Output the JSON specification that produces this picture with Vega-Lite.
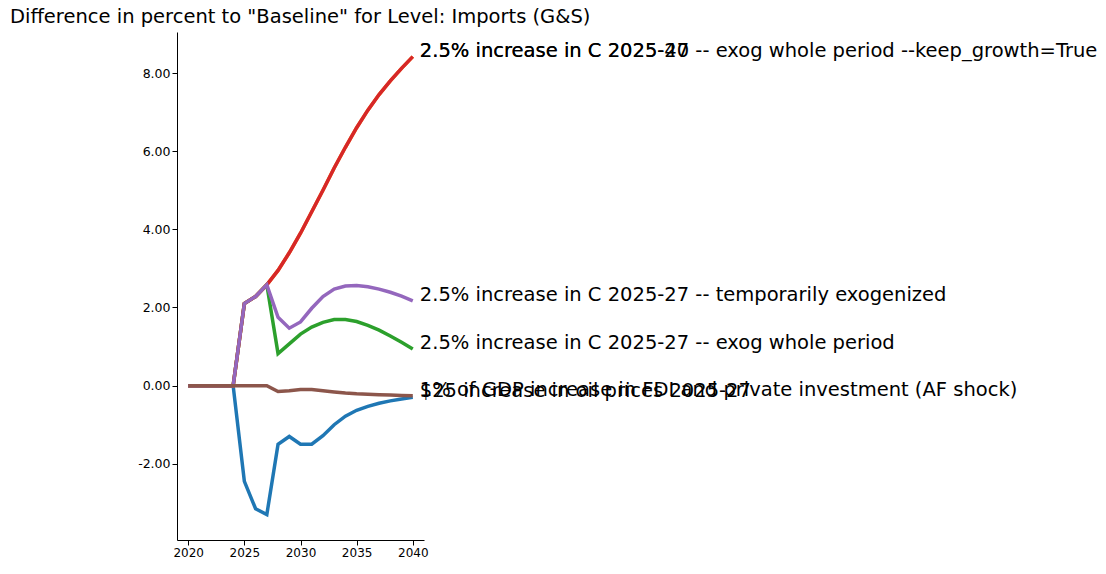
{
  "$schema": "https://vega.github.io/schema/vega-lite/v6.json",
  "autosize": "none",
  "width": 247,
  "height": 508,
  "padding": {"left": 177, "top": 32, "right": 682, "bottom": 34},
  "background": "white",
  "title": {"text": "Difference in percent to \"Baseline\" for Level: Imports (G&S)", "anchor": "start", "frame": "group", "dx": -167, "offset": 5, "fontSize": 19.5, "fontWeight": "normal", "font": "DejaVu Sans", "color": "black"},
  "datasets": {
    "labels": [
      {"key": "s1", "label": "$25 increase in oil prices 2025-27"},
      {"key": "s2", "label": "2.5% increase in C 2025-40"},
      {"key": "s3", "label": "2.5% increase in C 2025-27 -- exog whole period"},
      {"key": "s4", "label": "2.5% increase in C 2025-27 -- exog whole period --keep_growth=True"},
      {"key": "s5", "label": "2.5% increase in C 2025-27 -- temporarily exogenized"},
      {"key": "s6", "label": "1% of GDP increase in FDI and private investment (AF shock)"}
    ]
  },
  "data": {
    "values": [
      {"year": 2020, "s1": 0, "s2": 0, "s3": 0, "s4": 0, "s5": 0, "s6": 0},
      {"year": 2021, "s1": 0, "s2": 0, "s3": 0, "s4": 0, "s5": 0, "s6": 0},
      {"year": 2022, "s1": 0, "s2": 0, "s3": 0, "s4": 0, "s5": 0, "s6": 0},
      {"year": 2023, "s1": 0, "s2": 0, "s3": 0, "s4": 0, "s5": 0, "s6": 0},
      {"year": 2024, "s1": 0, "s2": 0, "s3": 0, "s4": 0, "s5": 0, "s6": 0},
      {"year": 2025, "s1": -2.45, "s2": 2.1, "s3": 2.1, "s4": 2.1, "s5": 2.1, "s6": 0},
      {"year": 2026, "s1": -3.15, "s2": 2.28, "s3": 2.28, "s4": 2.28, "s5": 2.28, "s6": 0},
      {"year": 2027, "s1": -3.3, "s2": 2.58, "s3": 2.58, "s4": 2.58, "s5": 2.58, "s6": 0},
      {"year": 2028, "s1": -1.5, "s2": 2.95, "s3": 0.82, "s4": 2.95, "s5": 1.75, "s6": -0.15},
      {"year": 2029, "s1": -1.3, "s2": 3.4, "s3": 1.07, "s4": 3.4, "s5": 1.47, "s6": -0.13},
      {"year": 2030, "s1": -1.5, "s2": 3.9, "s3": 1.32, "s4": 3.9, "s5": 1.63, "s6": -0.1},
      {"year": 2031, "s1": -1.5, "s2": 4.45, "s3": 1.5, "s4": 4.45, "s5": 1.98, "s6": -0.1},
      {"year": 2032, "s1": -1.28, "s2": 5.0, "s3": 1.62, "s4": 5.0, "s5": 2.28, "s6": -0.13},
      {"year": 2033, "s1": -1.0, "s2": 5.57, "s3": 1.69, "s4": 5.57, "s5": 2.47, "s6": -0.16},
      {"year": 2034, "s1": -0.78, "s2": 6.1, "s3": 1.69, "s4": 6.1, "s5": 2.55, "s6": -0.19},
      {"year": 2035, "s1": -0.63, "s2": 6.6, "s3": 1.64, "s4": 6.6, "s5": 2.56, "s6": -0.21},
      {"year": 2036, "s1": -0.53, "s2": 7.05, "s3": 1.54, "s4": 7.05, "s5": 2.53, "s6": -0.22},
      {"year": 2037, "s1": -0.45, "s2": 7.45, "s3": 1.42, "s4": 7.45, "s5": 2.47, "s6": -0.23},
      {"year": 2038, "s1": -0.39, "s2": 7.8, "s3": 1.27, "s4": 7.8, "s5": 2.39, "s6": -0.24},
      {"year": 2039, "s1": -0.34, "s2": 8.12, "s3": 1.11, "s4": 8.12, "s5": 2.29, "s6": -0.25},
      {"year": 2040, "s1": -0.3, "s2": 8.42, "s3": 0.94, "s4": 8.42, "s5": 2.17, "s6": -0.26}
    ]
  },
  "transform": [
    {"fold": ["s1", "s2", "s3", "s4", "s5", "s6"], "as": ["key", "value"]},
    {"lookup": "key", "from": {"data": {"name": "labels"}, "key": "key", "fields": ["label"]}}
  ],
  "encoding": {
    "x": {"field": "year", "type": "quantitative", "scale": {"domain": [2019, 2041], "nice": false, "zero": false},
      "axis": {"title": null, "values": [2020, 2025, 2030, 2035, 2040], "format": "d", "grid": false, "labelFontSize": 12, "labelColor": "black", "domainColor": "black", "tickColor": "black", "labelFont": "DejaVu Sans"}},
    "y": {"field": "value", "type": "quantitative", "scale": {"domain": [-3.95, 9.05], "nice": false, "zero": false},
      "axis": {"title": null, "values": [-2, 0, 2, 4, 6, 8], "labelExpr": "replace(format(datum.value, '.2f'), '\u2212', '-')", "grid": false, "labelFontSize": 12.5, "labelColor": "black", "domainColor": "black", "tickColor": "black", "labelFont": "DejaVu Sans"}},
    "color": {"field": "key", "type": "nominal", "legend": null,
      "scale": {"domain": ["s1", "s2", "s3", "s4", "s5", "s6"], "range": ["#1f77b4", "#ff7f0e", "#2ca02c", "#d62728", "#9467bd", "#8c564b"]}}
  },
  "layer": [
    {"mark": {"type": "line", "strokeWidth": 3.5, "clip": false}, "encoding": {"order": {"field": "year", "type": "quantitative"}, "detail": {"field": "key"}}},
    {"transform": [{"filter": "datum.year == 2040"}],
      "mark": {"type": "text", "align": "left", "baseline": "middle", "dx": 7, "dy": -6, "fontSize": 19.5, "font": "DejaVu Sans", "color": "black"},
      "encoding": {"text": {"field": "label"}, "color": {"value": "black"}}}
  ],
  "config": {"view": {"stroke": null}}
}
